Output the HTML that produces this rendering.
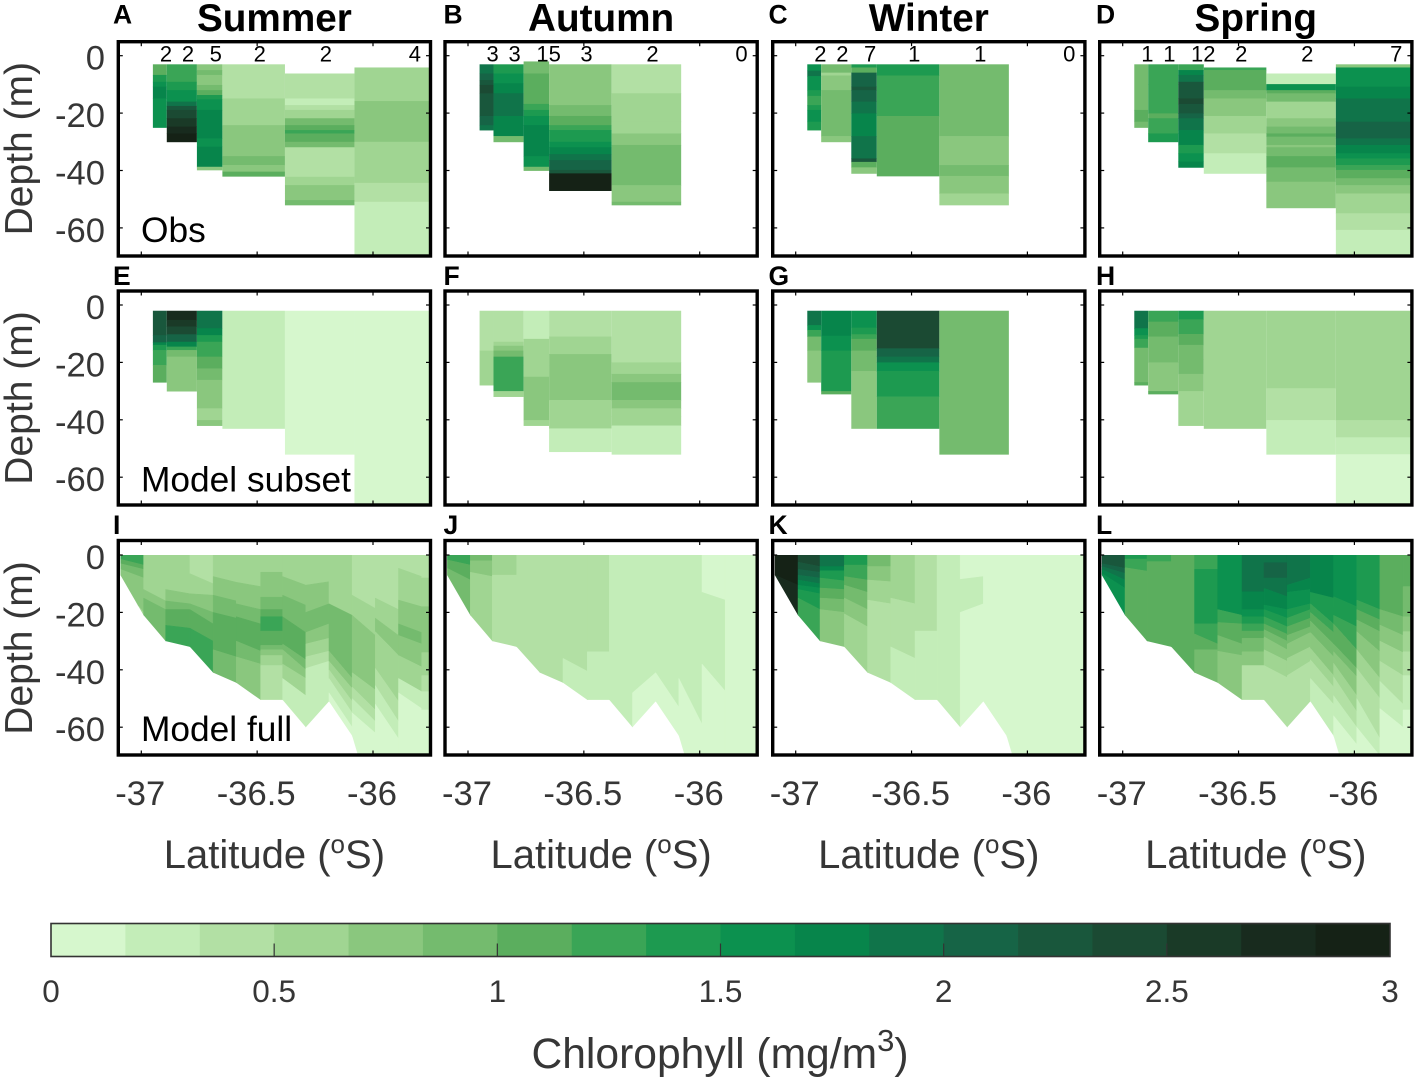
<!DOCTYPE html>
<html lang="en">
<head>
<meta charset="utf-8">
<title>Chlorophyll depth sections by season</title>
<style>
html,body{margin:0;padding:0;background:#fff;}
svg{display:block;font-family:"Liberation Sans",Arial,sans-serif;}
</style>
</head>
<body>
<svg id="chart" xmlns="http://www.w3.org/2000/svg" width="1417" height="1078" viewBox="0 0 1417 1078"></svg>
<script>
/* ---------- shared axis data ---------- */
const seasons = ['Summer', 'Autumn', 'Winter', 'Spring'];
const rowLabels = ['Obs', 'Model subset', 'Model full'];
const panelLetters = [['A','B','C','D'],['E','F','G','H'],['I','J','K','L']];
const latTicks = [-37, -36.5, -36];
const latTickLabels = ['-37', '-36.5', '-36'];
const depthTicks = [0, 20, 40, 60];
const depthTickLabels = ['0', '-20', '-40', '-60'];
const colorbarTicks = [0, 0.5, 1, 1.5, 2, 2.5, 3];
const colorbarTickLabels = ['0', '0.5', '1', '1.5', '2', '2.5', '3'];
const colorLevels = ['#d6f7cd','#c3edb8','#b2e0a4','#a0d592','#8ac77e','#74bb6e','#5bae5e','#3aa556','#1d9a50','#0c914f','#07854b','#10744a','#166446','#19573c','#1b4a33','#1a3a27','#182b1e','#152216'];

/* latitude bin edges of the observation sections */
const stationEdges = [-36.95,-36.89,-36.76,-36.65,-36.38,-36.08,-35.75];
/* model grid latitude and bottom depth for the full sections */
const fullLat = [-37.09,-36.99,-36.895,-36.79,-36.69,-36.59,-36.485,-36.39,-36.29,-36.19,-36.09,-35.99,-35.89,-35.79,-35.74];
const fullBottom = [7,21,30,32,41,44.5,50.5,50.5,60,51,63,90,90,90,90];

/* sample counts */
const countsSummer = ['2','2','5','2','2','4'];
const countsAutumn = ['3','3','15','3','2','0'];
const countsWinter = ['2','2','7','1','1','0'];
const countsSpring = ['1','1','12','2','2','7'];

/* observation columns: top depth, then [bottom depth m, colour level] */
const obsSummer = [
 [3,[6.7,6],[9.1,8],[10.8,9],[14.9,10],[25,9]],
 [3,[5.6,7],[9.1,7],[12,8],[16,9],[17.5,11],[18.9,13],[21.8,14],[24.7,15],[27.1,16],[30,17]],
 [3,[5,4],[6.7,5],[10.2,4],[12,5],[13.7,6],[15.2,8],[18.9,9],[28.8,10],[31.7,9],[38.7,10],[39.8,4]],
 [3,[14.9,2],[24.2,3],[25.9,4],[35,4],[38.1,5],[40.4,4],[42,6]],
 [6.2,[14.9,2],[17.2,1],[18.9,2],[21.8,3],[24.2,5],[25.9,6],[27.1,7],[30,6],[31.9,5],[42.2,2],[45.1,3],[48,4],[50.3,4],[52,5]],
 [4.1,[15.8,3],[30,4],[44.3,3],[50.9,2],[70,1]]
];
const obsAutumn = [
 [3,[6.2,11],[8.5,12],[10.2,13],[13.1,14],[21,13],[24.2,12],[25.9,11]],
 [3,[6.2,8],[9.6,9],[13.1,10],[21,11],[28,10],[30,5]],
 [2,[6.2,5],[16.8,6],[18.9,7],[21,8],[24.2,9],[35,10],[38.7,9],[40,5]],
 [3,[17.2,4],[21,5],[24.2,6],[25.9,7],[30,8],[31.9,9],[34.3,10],[36.4,11],[39.8,12],[41,13],[47,17]],
 [3,[13.1,2],[23,3],[27.1,3],[31.1,4],[45.1,5],[50.9,4],[52,5]],
 null
];
const obsWinter = [
 [3,[5.2,9],[7.1,11],[12,9],[14,8],[17.2,7],[18.9,8],[23,9],[25.9,8]],
 [3,[5.9,5],[6.9,3],[9.9,4],[12,4],[28,5],[30,4]],
 [3,[4.1,8],[5.9,6],[10.8,12],[12,13],[16,12],[20.1,11],[28,10],[35.8,11],[37,13],[38.9,6],[41,4]],
 [3,[6.9,8],[21,7],[41.9,6]],
 [3,[28,5],[38.1,4],[41.9,5],[48,4],[52,3]],
 null
];
const obsSpring = [
 [3,[18.9,5],[23,6],[25,5]],
 [3,[9.9,7],[20.1,7],[21.8,6],[27.1,7],[30,8]],
 [3,[5,7],[6.7,10],[9.1,11],[14.9,13],[16.8,14],[20.1,13],[21.8,12],[25.9,11],[31.1,10],[34,8],[36.9,9],[38.9,10]],
 [4.1,[5,7],[12,6],[14.9,5],[21,4],[27.1,3],[34,2],[41,1]],
 [6.2,[9.9,1],[12,9],[13.1,6],[16,5],[21.8,3],[24.7,4],[27.1,5],[28.2,6],[31.1,5],[31.9,4],[35,5],[38.9,6],[43.9,5],[53,4]],
 [3,[4.1,4],[10.8,9],[14.9,10],[23,11],[28.8,12],[31.1,11],[34,10],[35.8,9],[38.1,8],[39.8,7],[42.7,6],[45.1,5],[48,4],[50.9,3],[54.9,3],[60.7,2],[70,1]]
];

/* model subset columns */
const subsetSummer = [
 [2,[10.5,13],[13,12],[13.9,10],[15.7,8],[20.9,7],[26.9,6]],
 [2,[5.2,16],[7.5,15],[10.2,14],[12.8,12],[14.5,10],[15.7,7],[18,5],[30,4]],
 [2,[8.1,11],[10.5,10],[12.8,8],[18,7],[22.1,6],[26.1,5],[36,4],[40.1,3],[42,4]],
 [2,[43,1]],
 [2,[52,0]],
 [2,[70,0]]
];
const subsetAutumn = [
 [2,[15.9,2],[27.9,3]],
 [2,[12.8,2],[14.2,3],[15.9,4],[18,5],[30,7],[31.9,3]],
 [2,[11.8,1],[20.9,3],[25,3],[33.1,4],[40.1,4],[42,3]],
 [2,[11,2],[17.1,3],[33.1,4],[43,3],[51.1,1]],
 [2,[20,2],[24,3],[26.9,4],[33.1,5],[36,4],[38.9,3],[42,3],[52,1]],
 null
];
const subsetWinter = [
 [2,[7,11],[8.7,9],[11,7],[15.9,5],[26.9,4]],
 [2,[10.7,10],[15.9,9],[30,8],[31,6]],
 [2,[7.9,9],[10.2,8],[11.8,7],[15.9,6],[23,5],[43,4]],
 [2,[15.1,14],[18,12],[20,11],[23,9],[31.9,8],[43,7]],
 [2,[52,5]],
 null
];
const subsetSpring = [
 [2,[8.1,11],[10.5,9],[11.8,8],[14.9,7],[26.9,5],[27.9,6]],
 [2,[5.8,7],[11,6],[20,5],[30,4],[31,6]],
 [2,[5,8],[10.1,7],[13.9,6],[18.9,5],[24,5],[30,4],[42,3]],
 [2,[43,3]],
 [2,[29,3],[40.1,2],[52,1]],
 [2,[40.1,3],[46.1,2],[52,1],[70,0]]
];

/* full model strips: each layer [bottom depth at west edge, at east edge, colour level] */
const fullSummer = [
 [[1.5,3.5,7],[3,5,6],[5,8,5],[10,20,4],[30,30,3]],
 [[12,16,3],[15,19,4],[35,35,5]],
 [[12,13.5,3],[16,17,4],[19,19,5],[24.5,25.5,6],[40,40,7]],
 [[6.5,10,2],[13.5,14,3],[17,20,4],[19,24,5],[25.5,30,6],[45,45,7]],
 [[7.5,9.5,3],[14,16,4],[20,22,5],[33,35.5,6],[55,55,5]],
 [[9.5,11,3],[17,19,4],[21.5,24,5],[30,33.5,6],[35.5,38,5],[55,55,4]],
 [[6,6,3],[14.7,14.7,4],[19,19,5],[21.5,21.5,6],[26.5,26.5,7],[31.5,31.5,6],[33,33,5],[35,35,4],[38.5,38.5,3],[55,55,2]],
 [[7.5,10.5,3],[14,17.5,4],[21.5,27,5],[31,36.5,6],[33,40,5],[38,43,4],[43,49,3],[65,65,1]],
 [[10.5,9.3,3],[20,17,4],[27,24,5],[31,29,4],[35.5,33.5,3],[39.5,37,2],[65,65,1]],
 [[17,21,3],[33.5,43,5],[37,46.5,4],[40,51,3],[43,55,2],[48,60,1],[90,90,0]],
 [[14,18.6,2],[21,28,3],[41,47,4],[46,54,3],[50,58,2],[55,62,1],[90,90,0]],
 [[15,19,2],[22,28,3],[26.7,35,4],[39.5,51,3],[45.5,58,2],[52,64,1],[90,90,0]],
 [[4.6,7.5,2],[15.7,18,3],[24,27,4],[28,31,5],[35,39,4],[43,47.6,3],[48,53.5,1],[90,90,0]],
 [[8,8,2],[18,18,3],[27,27,4],[34,34,4],[42,42,3],[47.6,47.6,2],[54,54,1],[90,90,0]]
];
const fullAutumn = [
 [[1.7,3.5,7],[4.6,8.7,6],[25,25,5]],
 [[2,2,5],[6,7.5,4],[35,35,3]],
 [[7,7,3],[45,45,2]],
 [[50,50,2]],
 [[55,55,2]],
 [[36,40.5,2],[60,60,1]],
 [[33.7,33.7,2],[60,60,1]],
 [[70,70,1]],
 [[48,41,1],[70,70,0]],
 [[41,53,1],[90,90,0]],
 [[43,59,1],[90,90,0]],
 [[13,15.7,0],[38,47.4,1],[90,90,0]],
 [[90,90,0]],
 [[90,90,0]]
];
const fullWinter = [
 [[7,10.5,17],[25,25,16]],
 [[2.5,4,14],[5,6,13],[7,8,12],[8.7,10,11],[10.5,11.5,10],[12,13.5,9],[15,19,8],[35,35,7]],
 [[4,4,11],[5.5,5.5,10],[8,9,8],[11.5,12,7],[15,15.5,6],[19,20,5],[40,40,4]],
 [[3.5,3.5,8],[7.5,8.7,7],[10.5,13,6],[15,19,5],[20.5,25,4],[45,45,3]],
 [[4,4,5],[8.7,9.3,4],[15.7,17,3],[45,45,2]],
 [[15,17,3],[32,36,2],[55,55,1]],
 [[26.5,26.5,2],[55,55,1]],
 [[70,70,1]],
 [[8.5,7.5,0],[20,17,1],[70,70,0]],
 [[90,90,0]],
 [[90,90,0]],
 [[90,90,0]],
 [[90,90,0]],
 [[90,90,0]]
];
const fullSpring = [
 [[3,4.6,13],[4,6.4,12],[5,8.7,11],[6.4,11.6,10],[25,25,9]],
 [[1.4,1.4,8],[4.4,5.6,7],[35,35,6]],
 [[2.3,2.3,7],[40,40,6]],
 [[45,45,6]],
 [[5,5,7],[24,24,8],[27.5,31,7],[33,33,6],[50,50,5]],
 [[19,21,9],[23.5,24,7],[28,31,6],[33.5,35,5],[60,60,4]],
 [[12.8,12.8,11],[19,19,10],[21.5,21.5,9],[24,24,8],[26.5,26.5,7],[29,29,6],[33.7,33.7,5],[38.5,38.5,4],[60,60,2]],
 [[2.7,2.7,11],[8,8,12],[11.6,14.5,11],[17.4,19,10],[19,22,9],[21.5,25,8],[24,27.6,7],[26,30,6],[28.5,33,5],[33,37,4],[38.5,42.7,3],[70,70,2]],
 [[10.5,8,11],[13,12,10],[19,17,9],[22,19,8],[25,22,7],[28,25,6],[31,27,5],[36,32,4],[42,37,3],[70,70,2]],
 [[13,15,10],[17,24,8],[20,27,7],[23,31,6],[27,35.5,5],[32.5,42,4],[36.5,46,3],[43,52,2],[90,90,1]],
 [[14.5,18,9],[21,25,8],[24,33,7],[31,39.5,6],[33.7,42.4,5],[37.7,49,4],[42.4,54.6,3],[49,60,2],[56,66,1],[90,90,0]],
 [[15.7,19,8],[19,22.6,7],[22.6,26.7,6],[26.7,33.7,5],[33,43,4],[39.5,50,3],[50,64,2],[60,70,1],[90,90,0]],
 [[19,21.5,6],[24.4,28,5],[30,34,4],[37,42,3],[44,52,2],[53.5,60,1],[90,90,0]],
 [[11,11,6],[21.5,21.5,5],[26.7,26.7,4],[33.7,33.7,3],[42,42,2],[54,54,1],[90,90,0]]
];

const obsPanels = [obsSummer, obsAutumn, obsWinter, obsSpring];
const subsetPanels = [subsetSummer, subsetAutumn, subsetWinter, subsetSpring];
const fullPanels = [fullSummer, fullAutumn, fullWinter, fullSpring];
const countPanels = [countsSummer, countsAutumn, countsWinter, countsSpring];

/* ---------- layout ---------- */
const svg = document.getElementById('chart');
const NS = 'http://www.w3.org/2000/svg';
const panelLeft = [118.3, 445, 772.7, 1099.7];
const panelWidth = 312.2;
const rowZero = [55.7, 305, 555];
const rowTop = [41.7, 291, 540.5];
const rowBottom = [256, 505, 755];
const PX_PER_DEG = 231.7;
const PX_PER_M = 2.87;
const INK = '#363636';

function mk(tag, attrs, parent, text) {
  const el = document.createElementNS(NS, tag);
  for (const k in attrs) el.setAttribute(k, attrs[k]);
  if (text !== undefined) el.textContent = text;
  (parent || svg).appendChild(el);
  return el;
}
function xOf(col, lat) { return panelLeft[col] + 23 + (lat + 37) * PX_PER_DEG; }
function yOf(row, depth) { return rowZero[row] + depth * PX_PER_M; }

let clipCount = 0;
function frameClip(row, col) {
  const id = 'frame-clip-' + (clipCount++);
  const cp = mk('clipPath', {id: id});
  mk('rect', {x: panelLeft[col], y: rowTop[row], width: panelWidth, height: rowBottom[row] - rowTop[row]}, cp);
  return id;
}

function drawColumns(row, col, columns, g) {
  columns.forEach(function (column, i) {
    if (!column) return;
    const x0 = xOf(col, stationEdges[i]);
    const x1 = xOf(col, stationEdges[i + 1]);
    let top = column[0];
    for (let k = 1; k < column.length; k++) {
      const bottom = column[k][0];
      const cell = mk('rect', {x: x0, y: yOf(row, top), width: x1 - x0, height: (bottom - top) * PX_PER_M + 0.4, fill: colorLevels[column[k][1]]}, g);
      
      
      top = bottom;
    }
  });
}

function drawStrips(row, col, strips, g) {
  const id = 'seabed-clip-' + (clipCount++);
  const cp = mk('clipPath', {id: id});
  let pts = [[xOf(col, fullLat[0]), yOf(row, 0)], [xOf(col, fullLat[fullLat.length - 1]), yOf(row, 0)]];
  for (let i = fullLat.length - 1; i >= 0; i--) pts.push([xOf(col, fullLat[i]), yOf(row, fullBottom[i])]);
  mk('polygon', {points: pts.map(function (p) { return p.join(','); }).join(' ')}, cp);
  const inner = mk('g', {'clip-path': 'url(#' + id + ')'}, g);
  
  
  strips.forEach(function (layers, i) {
    const x0 = xOf(col, fullLat[i]);
    const x1 = xOf(col, fullLat[i + 1]);
    let prevL = 0, prevR = 0;
    layers.forEach(function (layer) {
      const p = [[x0, yOf(row, prevL)], [x1, yOf(row, prevR)], [x1, yOf(row, layer[1])], [x0, yOf(row, layer[0])]];
      const c = colorLevels[layer[2]];
      const poly = mk('polygon', {points: p.map(function (q) { return q.join(','); }).join(' '), fill: c, stroke: c, 'stroke-width': 0.5}, inner);
      
      
      prevL = layer[0];
      prevR = layer[1];
    });
  });
}

/* ---------- panels ---------- */
for (let row = 0; row < 3; row++) {
  for (let col = 0; col < 4; col++) {
    const panel = mk('g', {});
    
    

    const g = mk('g', {'clip-path': 'url(#' + frameClip(row, col) + ')'}, panel);
    
    
    if (row === 0) drawColumns(row, col, obsPanels[col], g);
    if (row === 1) drawColumns(row, col, subsetPanels[col], g);
    if (row === 2) drawStrips(row, col, fullPanels[col], g);

    const L = panelLeft[col], R = L + panelWidth, T = rowTop[row], B = rowBottom[row];
    latTicks.forEach(function (lat) {
      const x = xOf(col, lat);
      const t1 = mk('line', {x1: x, x2: x, y1: T, y2: T + 4.5, stroke: '#000', 'stroke-width': 1.2}, panel);
      
      
      const t2 = mk('line', {x1: x, x2: x, y1: B, y2: B - 4.5, stroke: '#000', 'stroke-width': 1.2}, panel);
      
      
    });
    depthTicks.forEach(function (d) {
      const y = yOf(row, d);
      const t1 = mk('line', {x1: L, x2: L + 4.5, y1: y, y2: y, stroke: '#000', 'stroke-width': 1.2}, panel);
      
      
      const t2 = mk('line', {x1: R, x2: R - 4.5, y1: y, y2: y, stroke: '#000', 'stroke-width': 1.2}, panel);
      
      
    });
    const frame = mk('rect', {x: L, y: T, width: panelWidth, height: B - T, fill: 'none', stroke: '#000', 'stroke-width': 3.4}, panel);
    
    

    const letterX = [113, 443.5, 768.5, 1096][col];
    const letter = mk('text', {x: letterX, y: [23.5, 285, 534][row], 'font-size': 26.5, 'font-weight': 'bold', fill: '#000'}, panel, panelLetters[row][col]);
    
    

    if (col === 0) {
      depthTicks.forEach(function (d, k) {
        const lab = mk('text', {x: 105, y: yOf(row, d) + 14, 'font-size': 34.6, 'text-anchor': 'end', fill: INK}, panel, depthTickLabels[k]);
        
        
      });
      const cy = rowZero[row] + 93;
      const yt = mk('text', {x: 32, y: cy, 'font-size': 39, 'text-anchor': 'middle', fill: INK, transform: 'rotate(-90 32 ' + cy + ')'}, panel, 'Depth (m)');
      
      
      const rl = mk('text', {x: 141, y: [242, 491.5, 741][row], 'font-size': 35.3, fill: '#000'}, panel, rowLabels[row]);
      
      
    }
    if (row === 0) {
      countPanels[col].forEach(function (n, i) {
        const mid = (stationEdges[i] + stationEdges[i + 1]) / 2;
        const c = mk('text', {x: xOf(col, mid) + (i === 5 ? 16 : 0), y: 61.5, 'font-size': 22, fill: '#000'}, panel, n);
        
        
      });
      const title = mk('text', {x: L + panelWidth / 2, y: 31, 'font-size': 38.7, 'font-weight': 'bold', 'text-anchor': 'middle', fill: '#000'}, panel, seasons[col]);
      
      
    }
    if (row === 2) {
      latTicks.forEach(function (lat, k) {
        const lab = mk('text', {x: xOf(col, lat) - 1, y: 805, 'font-size': 34.6, 'text-anchor': 'middle', fill: INK}, panel, latTickLabels[k]);
        
        
      });
      const xt = mk('text', {x: L + panelWidth / 2, y: 868, 'font-size': 40, 'text-anchor': 'middle', fill: INK}, panel);
      
      
      xt.innerHTML = 'Latitude (<tspan font-size="26" dy="-15">o</tspan><tspan dy="15">S)</tspan>';
    }
  }
}

/* ---------- colour bar ---------- */
const cbLeft = 51, cbRight = 1390, cbTop = 923.5, cbBottom = 956.5;
function cbX(v) { return cbLeft + (v / 3) * (cbRight - cbLeft); }
const bar = mk('g', {});


colorLevels.forEach(function (c, i) {
  const x0 = cbX(i / 6), x1 = cbX((i + 1) / 6);
  const s = mk('rect', {x: x0, y: cbTop, width: x1 - x0 + 0.4, height: cbBottom - cbTop, fill: c}, bar);
  
  
});
const cbFrame = mk('rect', {x: cbLeft, y: cbTop, width: cbRight - cbLeft, height: cbBottom - cbTop, fill: 'none', stroke: '#333', 'stroke-width': 1.6}, bar);


colorbarTicks.forEach(function (v, i) {
  const x = cbX(v);
  if (i > 0 && i < colorbarTicks.length - 1) {
    const t = mk('line', {x1: x, x2: x, y1: cbBottom, y2: cbBottom - 13, stroke: '#333', 'stroke-width': 1.2}, bar);
    
    
  }
  const lab = mk('text', {x: x, y: 1002, 'font-size': 31.5, 'text-anchor': 'middle', fill: INK}, bar, colorbarTickLabels[i]);
  
  
});
const cbTitle = mk('text', {x: 720, y: 1068, 'font-size': 42.6, 'text-anchor': 'middle', fill: INK}, bar);


cbTitle.innerHTML = 'Chlorophyll (mg/m<tspan font-size="31" dy="-17">3</tspan><tspan dy="17">)</tspan>';
</script>
</body>
</html>
